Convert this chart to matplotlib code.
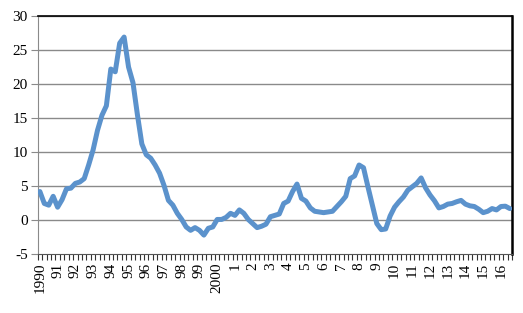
import numpy as np
from matplotlib import pyplot as plt

# quarterly values, 1990 Q1 .. 2016 Q3
values = [4.2, 2.45, 2.2, 3.5, 1.9, 3.0, 4.6, 4.7, 5.4, 5.6,
          6.1, 8.1, 10.3, 13.2, 15.4, 16.8, 22.2, 21.8, 26.0, 26.9,
          22.5, 20.2, 15.5, 11.2, 9.6, 9.1, 8.1, 6.9, 5.1, 2.9,
          2.2, 1.0, 0.1, -1.0, -1.5, -1.1, -1.5, -2.2, -1.2, -1.0,
          0.1, 0.1, 0.4, 1.0, 0.7, 1.5, 1.0, 0.1, -0.5, -1.1,
          -0.9, -0.6, 0.5, 0.7, 0.9, 2.45, 2.8, 4.2, 5.3, 3.2,
          2.8, 1.8, 1.3, 1.2, 1.1, 1.2, 1.3, 2.0, 2.7, 3.5,
          6.1, 6.5, 8.1, 7.7, 4.9, 2.2, -0.5, -1.4, -1.3, 0.6,
          1.9, 2.7, 3.4, 4.4, 4.9, 5.4, 6.2, 4.75, 3.7, 2.85,
          1.8, 2.0, 2.35, 2.45, 2.7, 2.9, 2.35, 2.1, 2.0, 1.6,
          1.1, 1.3, 1.7, 1.5, 2.0, 2.05, 1.7]

year_labels = ['1990', '91', '92', '93', '94', '95', '96', '97', '98', '99',
               '2000', '1', '2', '3', '4', '5', '6', '7', '8', '9',
               '10', '11', '12', '13', '14', '15', '16']

y_ticks = [-5, 0, 5, 10, 15, 20, 25, 30]


def main():
    plt.rcParams['font.family'] = ['Liberation Serif', 'DejaVu Serif']
    fig = plt.figure(figsize=(5.23, 3.13), dpi=100)
    ax = fig.add_axes([0.072, 0.188, 0.907, 0.761])

    x = np.arange(len(values))
    ax.plot(x, values, color='#5b92cc', lw=3.6, solid_joinstyle='round',
            solid_capstyle='round', zorder=3)

    ax.set_xlim(-0.5, len(values) - 0.5)
    ax.set_ylim(-5, 30)
    ax.set_yticks(y_ticks)
    ax.set_yticklabels([str(t) for t in y_ticks], fontsize=11)
    for t in y_ticks[1:]:
        ax.axhline(t, color='#8a8a8a', lw=1.0, zorder=1)

    ax.set_xticks(np.arange(0, len(values), 4))
    ax.set_xticklabels(year_labels, rotation=90, fontsize=11)
    ax.set_xticks(np.arange(-0.5, len(values), 1), minor=True)
    ax.tick_params(axis='x', which='major', length=0, pad=6)
    ax.tick_params(axis='x', which='minor', length=4, width=0.8, color='#333333')
    ax.tick_params(axis='y', length=5, width=0.8, color='#8a8a8a', pad=2)

    ax.spines['left'].set_color('#8a8a8a')
    ax.spines['bottom'].set_color('#555555')
    ax.spines['top'].set_color('black')
    ax.spines['right'].set_color('black')
    ax.spines['right'].set_linewidth(1.8)
    ax.spines['top'].set_linewidth(1.2)

    plt.savefig('out.png', dpi=100)


if __name__ == '__main__':
    main()
